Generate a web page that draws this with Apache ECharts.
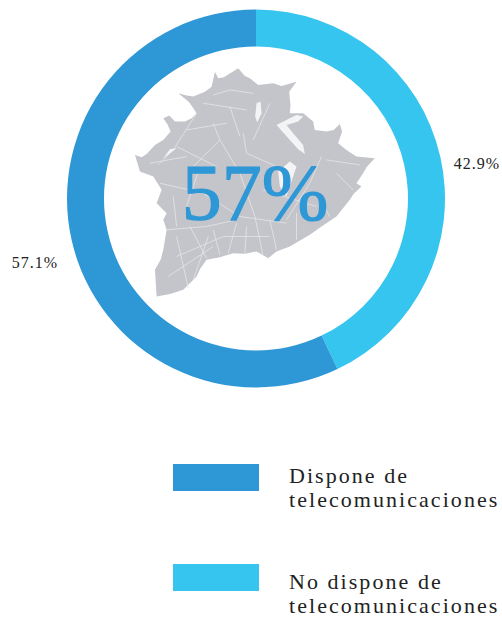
<!DOCTYPE html>
<html>
<head>
<meta charset="utf-8">
<script src="https://cdn.jsdelivr.net/npm/echarts@6/dist/echarts.min.js"></script>
<style>
html,body{margin:0;padding:0;background:#fff}
#c{width:502px;height:621px}
svg text[style*="22px"]{letter-spacing:2.05px}
svg text[style*="16px"]{letter-spacing:1px}
</style>
</head>
<body>
<div id="c"></div>
<script>
const categories = ['No dispone de\ntelecomunicaciones', 'Dispone de\ntelecomunicaciones'];
const seriesValues = [42.9, 57.1];
const sliceColors = ['#36C5EF', '#2E97D6'];
const centerText = '57%';
const mapOutline = [[15,315],[35,322],[50,312],[75,285],[100,270],[122,245],[112,222],[100,205],[118,197],[135,215],[165,215],[185,205],[200,190],[180,160],[170,150],[145,130],[170,137],[190,140],[225,125],[245,110],[255,65],[265,85],[282,82],[325,55],[345,78],[360,85],[385,105],[430,100],[455,108],[500,95],[478,125],[482,165],[480,190],[520,190],[550,215],[555,240],[590,245],[612,240],[630,222],[637,245],[625,280],[650,300],[680,320],[735,325],[712,350],[700,370],[680,400],[695,410],[672,432],[660,450],[620,500],[575,530],[540,555],[480,590],[440,605],[415,625],[380,605],[345,612],[310,610],[270,622],[230,630],[212,655],[200,680],[160,720],[120,733],[80,740],[75,660],[92,630],[100,600],[110,540],[100,510],[110,490],[80,460],[95,420],[70,380],[30,365]];
const mapStreets = [[[270,270],[330,370],[375,500],[400,620]],[[200,190],[130,300],[85,345]],[[235,560],[190,690]],[[320,520],[295,610]],[[250,135],[300,120],[370,130]],[[90,400],[220,430],[330,500],[470,520]],[[110,540],[230,530],[320,510]],[[340,250],[350,310],[440,350]],[[575,320],[540,400],[470,510]],[[250,220],[270,270],[190,350]],[[140,620],[280,560],[420,560]],[[115,680],[250,590]],[[140,560],[175,715]],[[180,530],[230,625]],[[250,540],[270,615]],[[350,530],[345,610]],[[420,510],[440,600]],[[500,490],[500,570]],[[560,430],[600,500]],[[620,370],[670,420]],[[590,330],[690,345]],[[140,290],[260,350]],[[170,240],[290,220]],[[300,170],[330,260]],[[220,160],[350,180]],[[420,160],[370,270]],[[60,340],[170,320]],[[130,440],[140,530]],[[210,350],[170,470]],[[400,420],[560,470]]];
const mapHoles = [[[440,225],[480,205],[500,195],[520,200],[505,215],[470,225],[490,250],[520,285],[525,312],[505,298],[480,270]],[[380,160],[392,155],[395,190],[382,218],[376,200]],[[445,365],[480,335],[500,350],[470,440],[450,410]],[[120,298],[140,295],[100,325]]];

const chart = echarts.init(document.getElementById('c'), null, {renderer:'svg'});
const serif = '"Liberation Serif", serif';
const legendBase = {
  orient:'vertical', left:173, padding:0, icon:'rect', itemWidth:86, itemHeight:27, itemGap:0, selectedMode:false
};
const textRich = {fontFamily:serif, fontSize:22, color:'#222', lineHeight:24, padding:[0,0,0,25]};
const legendItem = (name, shim) => ({
  formatter: n => '{s| }\n' + n.split('\n').map(l => '{t|' + l + '}').join('\n'),
  textStyle: {fontFamily:serif, fontSize:22, color:'#222', rich:{
    s:{fontFamily:serif, fontSize:10, lineHeight:shim},
    t:textRich
  }},
  data:[name]
});
const labelOffsets = [{x:477,y:163},{x:35,y:262}];
chart.setOption({
  animation:false,
  backgroundColor:'#ffffff',
  color:sliceColors,
  legend:[
    Object.assign({}, legendBase, {top:448.5}, legendItem(categories[1], 20)),
    Object.assign({}, legendBase, {top:548.5}, legendItem(categories[0], 32))
  ],
  series:[{
    type:'pie', center:[256,198.5], radius:[152,189], startAngle:90, clockwise:true,
    percentPrecision:1,
    silent:true,
    label:{show:true, position:'outside', overflow:'none', formatter:'{d}%', fontFamily:serif, fontSize:16, color:'#222'},
    labelLine:{show:false},
    labelLayout:function(p){const o=labelOffsets[p.dataIndex];return {x:o.x,y:o.y,align:'center',verticalAlign:'middle'};},
    data:categories.map((n,i)=>({name:n,value:seriesValues[i]}))
  }],
  graphic:[{
    type:'group', x:130, y:50, scaleX:1/3, scaleY:1/3, silent:true,
    children:[
      {type:'polygon', shape:{points:mapOutline}, style:{fill:'#C3C5CA'}}
    ].concat(mapStreets.map(s=>({type:'polyline', shape:{points:s}, style:{stroke:'#E3E4E7',lineWidth:2.5,fill:null}})))
     .concat(mapHoles.map(h=>({type:'polygon', shape:{points:h}, style:{fill:'#F4F4F6'}})))
  },{
    type:'text', x:255, y:193, silent:true,
    style:{text:centerText, fill:'#2E97D6', stroke:'#2E97D6', lineWidth:1.2, font:'80px "Liberation Serif", serif', textAlign:'center', textVerticalAlign:'middle'}
  }]
});
</script>
</body>
</html>
